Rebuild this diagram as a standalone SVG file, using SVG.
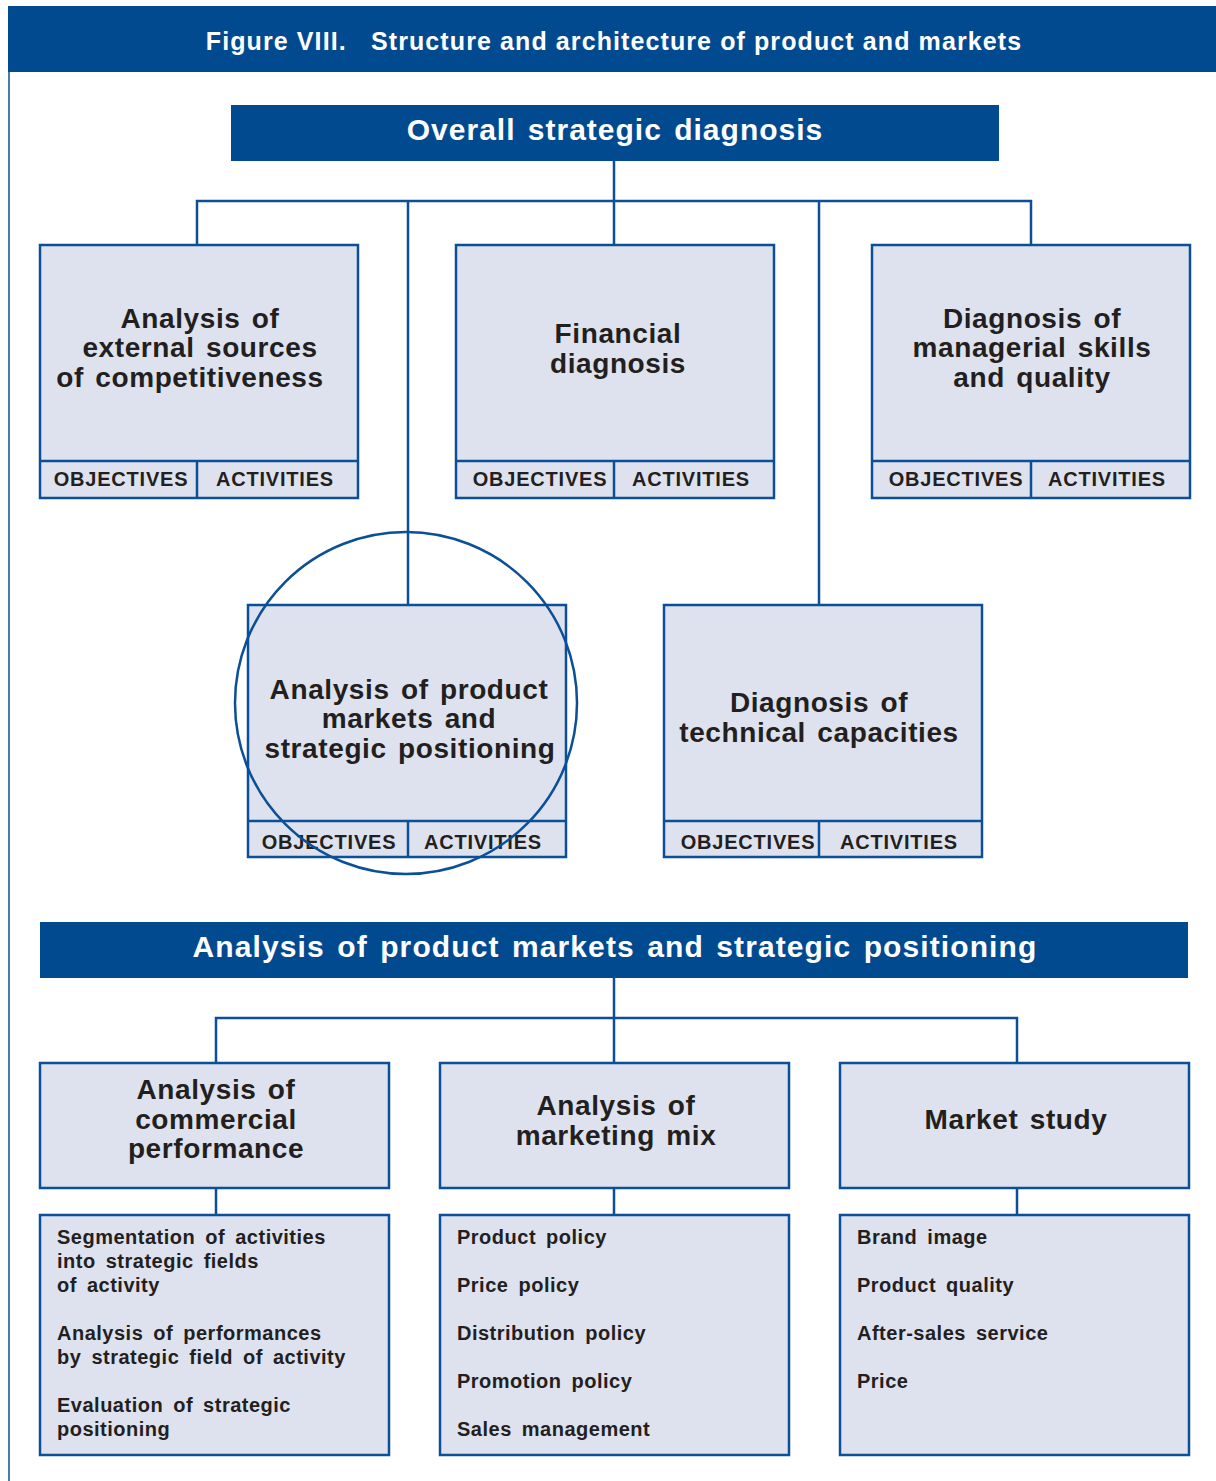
<svg xmlns="http://www.w3.org/2000/svg" width="1216" height="1481" viewBox="0 0 1216 1481">
<style>
.bar{fill:#024a90}
.box{fill:#dee2ee;stroke:#0a4f98;stroke-width:2.5}
.ln{stroke:#0a4f98;stroke-width:2.5;fill:none}
.wt{font-family:"Liberation Sans",Arial,sans-serif;font-weight:bold;fill:#ffffff;text-anchor:middle}
.t{font-family:"Liberation Sans",Arial,sans-serif;font-weight:bold;fill:#231f20;text-anchor:middle;font-size:28px;letter-spacing:0.6px;word-spacing:3px}
.s{font-family:"Liberation Sans",Arial,sans-serif;font-weight:bold;fill:#231f20;text-anchor:middle;font-size:20px;letter-spacing:0.8px}
.li{font-family:"Liberation Sans",Arial,sans-serif;font-weight:bold;fill:#231f20;font-size:20px;letter-spacing:0.5px;word-spacing:4px}
</style>
<rect width="1216" height="1481" fill="#ffffff"/>
<g id="frame">
<rect class="bar" x="8" y="6" width="1208" height="66"/>
<line x1="9" y1="72" x2="9" y2="1481" stroke="#0a4f98" stroke-width="1.5"/>
<text class="wt" x="614" y="50" font-size="25" letter-spacing="1.1" xml:space="preserve">Figure VIII.   Structure and architecture of product and markets</text>
</g>
<g id="connectors">
<path class="ln" d="M614 161V245M197 245V201H1031V245M408 201V605M819 201V605"/>
<path class="ln" d="M614 978V1063M216 1063V1018H1017V1063"/>
<path class="ln" d="M216 1188V1215M614 1188V1215M1017 1188V1215"/>
</g>
<g id="overall">
<rect class="bar" x="231" y="105" width="768" height="56"/>
<text class="wt" x="615" y="140" font-size="30" letter-spacing="1" word-spacing="3">Overall strategic diagnosis</text>
</g>
<g id="external">
<rect class="box" x="40" y="245" width="318" height="253"/>
<path class="ln" d="M40 461H358M197 461V498"/>
<text class="t" x="200" y="328">Analysis of</text>
<text class="t" x="200" y="357">external sources</text>
<text class="t" x="190" y="387">of competitiveness</text>
<text class="s" x="121" y="486">OBJECTIVES</text>
<text class="s" x="275" y="486">ACTIVITIES</text>
</g>
<g id="financial">
<rect class="box" x="456" y="245" width="318" height="253"/>
<path class="ln" d="M456 461H774M614 461V498"/>
<text class="t" x="618" y="343">Financial</text>
<text class="t" x="618" y="373">diagnosis</text>
<text class="s" x="540" y="486">OBJECTIVES</text>
<text class="s" x="691" y="486">ACTIVITIES</text>
</g>
<g id="managerial">
<rect class="box" x="872" y="245" width="318" height="253"/>
<path class="ln" d="M872 461H1190M1031 461V498"/>
<text class="t" x="1032" y="328">Diagnosis of</text>
<text class="t" x="1032" y="357">managerial skills</text>
<text class="t" x="1032" y="387">and quality</text>
<text class="s" x="956" y="486">OBJECTIVES</text>
<text class="s" x="1107" y="486">ACTIVITIES</text>
</g>
<g id="productmarkets">
<rect class="box" x="248" y="605" width="318" height="252"/>
<path class="ln" d="M248 821H566M408 821V857"/>
<text class="t" x="409" y="699">Analysis of product</text>
<text class="t" x="409" y="728">markets and</text>
<text class="t" x="410" y="758">strategic positioning</text>
<text class="s" x="329" y="849">OBJECTIVES</text>
<text class="s" x="483" y="849">ACTIVITIES</text>
<circle class="ln" cx="406" cy="703" r="171"/>
</g>
<g id="technical">
<rect class="box" x="664" y="605" width="318" height="252"/>
<path class="ln" d="M664 821H982M819 821V857"/>
<text class="t" x="819" y="712">Diagnosis of</text>
<text class="t" x="819" y="742">technical capacities</text>
<text class="s" x="748" y="849">OBJECTIVES</text>
<text class="s" x="899" y="849">ACTIVITIES</text>
</g>
<g id="analysisbar">
<rect class="bar" x="40" y="922" width="1148" height="56"/>
<text class="wt" x="615" y="957" font-size="30" letter-spacing="1.1" word-spacing="3">Analysis of product markets and strategic positioning</text>
</g>
<g id="commercial">
<rect class="box" x="40" y="1063" width="349" height="125"/>
<text class="t" x="216" y="1099">Analysis of</text>
<text class="t" x="216" y="1129">commercial</text>
<text class="t" x="216" y="1158">performance</text>
</g>
<g id="marketingmix">
<rect class="box" x="440" y="1063" width="349" height="125"/>
<text class="t" x="616" y="1115">Analysis of</text>
<text class="t" x="616" y="1145">marketing mix</text>
</g>
<g id="marketstudy">
<rect class="box" x="840" y="1063" width="349" height="125"/>
<text class="t" x="1016" y="1129">Market study</text>
</g>
<g id="commercial-items">
<rect class="box" x="40" y="1215" width="349" height="240"/>
<text class="li" x="57" y="1244">Segmentation of activities</text>
<text class="li" x="57" y="1268">into strategic fields</text>
<text class="li" x="57" y="1292">of activity</text>
<text class="li" x="57" y="1340">Analysis of performances</text>
<text class="li" x="57" y="1364">by strategic field of activity</text>
<text class="li" x="57" y="1412">Evaluation of strategic</text>
<text class="li" x="57" y="1436">positioning</text>
</g>
<g id="mix-items">
<rect class="box" x="440" y="1215" width="349" height="240"/>
<text class="li" x="457" y="1244">Product policy</text>
<text class="li" x="457" y="1292">Price policy</text>
<text class="li" x="457" y="1340">Distribution policy</text>
<text class="li" x="457" y="1388">Promotion policy</text>
<text class="li" x="457" y="1436">Sales management</text>
</g>
<g id="study-items">
<rect class="box" x="840" y="1215" width="349" height="240"/>
<text class="li" x="857" y="1244">Brand image</text>
<text class="li" x="857" y="1292">Product quality</text>
<text class="li" x="857" y="1340">After-sales service</text>
<text class="li" x="857" y="1388">Price</text>
</g>
</svg>
